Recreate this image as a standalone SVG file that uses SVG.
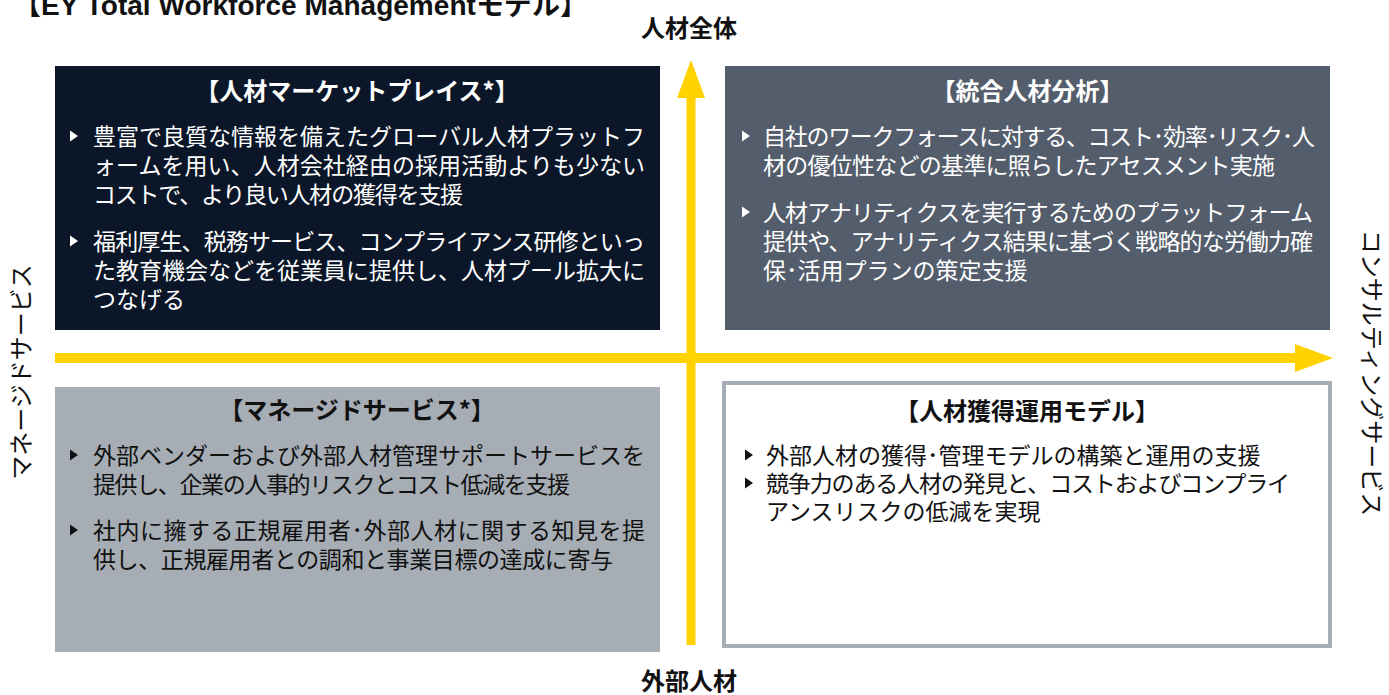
<svg xmlns="http://www.w3.org/2000/svg" width="1389" height="695" viewBox="0 0 1389 695">
<style>
.ttl{font-family:"Noto Sans CJK JP",sans-serif;font-size:24px;font-weight:bold;text-anchor:middle;}
.body{font-family:"Noto Sans CJK JP",sans-serif;font-size:23px;}
.w{fill:#ffffff;}
.k{fill:#111111;}
.axis{font-family:"Noto Sans CJK JP",sans-serif;font-size:24px;font-weight:bold;fill:#111;text-anchor:middle;}
.side{font-family:"Noto Sans CJK JP",sans-serif;font-size:24px;fill:#111;text-anchor:middle;}
.conn{stroke:#ffd200;fill:none;}
</style>
<defs>
<marker id="head" markerUnits="userSpaceOnUse" viewBox="0 0 38 28" refX="1" refY="14" markerWidth="38" markerHeight="28" orient="auto">
<path d="M0,0 L38,14 L0,28 Z" fill="#ffd200"/>
</marker>
<polygon id="bul" points="0,-5.5 8,0 0,5.5"/>
</defs>
<rect width="1389" height="695" fill="#ffffff"/>

<g id="title">
<text x="13" y="15" font-family="'Liberation Sans','Noto Sans CJK JP',sans-serif" font-size="28" font-weight="bold" fill="#111" textLength="575" lengthAdjust="spacing">【EY Total Workforce Managementモデル】</text>
</g>

<g id="node-marketplace">
<rect x="55" y="66" width="605" height="264" fill="#0b1728"/>
<text class="ttl w" x="357" y="100">【人材マーケットプレイス*】</text>
<use href="#bul" x="70" y="136" fill="#ffffff"/>
<use href="#bul" x="70" y="241" fill="#ffffff"/>
<text class="body w" x="93" y="145" textLength="552" lengthAdjust="spacing">豊富で良質な情報を備えたグローバル人材プラットフ</text>
<text class="body w" x="93" y="174" textLength="552" lengthAdjust="spacing">ォームを用い、人材会社経由の採用活動よりも少ない</text>
<text class="body w" x="93" y="203" textLength="370" lengthAdjust="spacing">コストで、より良い人材の獲得を支援</text>
<text class="body w" x="93" y="250" textLength="552" lengthAdjust="spacing">福利厚生、税務サービス、コンプライアンス研修といっ</text>
<text class="body w" x="93" y="279" textLength="552" lengthAdjust="spacing">た教育機会などを従業員に提供し、人材プール拡大に</text>
<text class="body w" x="93" y="308">つなげる</text>
</g>

<g id="node-analytics">
<rect x="725" y="66" width="605" height="264" fill="#535d6b"/>
<text class="ttl w" x="1027.5" y="100">【統合人材分析】</text>
<use href="#bul" x="742" y="136" fill="#ffffff"/>
<use href="#bul" x="742" y="212" fill="#ffffff"/>
<text class="body w" x="763" y="145" textLength="552" lengthAdjust="spacing">自社のワークフォースに対する、コスト･効率･リスク･人</text>
<text class="body w" x="763" y="174" textLength="512" lengthAdjust="spacing">材の優位性などの基準に照らしたアセスメント実施</text>
<text class="body w" x="763" y="221" textLength="550" lengthAdjust="spacing">人材アナリティクスを実行するためのプラットフォーム</text>
<text class="body w" x="763" y="250" textLength="550" lengthAdjust="spacing">提供や、アナリティクス結果に基づく戦略的な労働力確</text>
<text class="body w" x="763" y="279">保･活用プランの策定支援</text>
</g>

<g id="node-managed">
<rect x="55" y="387" width="605" height="265" fill="#a6adb4"/>
<text class="ttl k" x="357" y="419">【マネージドサービス*】</text>
<use href="#bul" x="70" y="455" fill="#111"/>
<use href="#bul" x="70" y="530" fill="#111"/>
<text class="body k" x="93" y="464" textLength="552" lengthAdjust="spacing">外部ベンダーおよび外部人材管理サポートサービスを</text>
<text class="body k" x="93" y="493" textLength="477" lengthAdjust="spacing">提供し、企業の人事的リスクとコスト低減を支援</text>
<text class="body k" x="93" y="539" textLength="552" lengthAdjust="spacing">社内に擁する正規雇用者･外部人材に関する知見を提</text>
<text class="body k" x="93" y="568" textLength="520" lengthAdjust="spacing">供し、正規雇用者との調和と事業目標の達成に寄与</text>
</g>

<g id="node-acquisition">
<rect x="724" y="383" width="606" height="263" fill="#ffffff" stroke="#a6adb4" stroke-width="4"/>
<text class="ttl k" x="1027" y="420">【人材獲得運用モデル】</text>
<use href="#bul" x="745" y="455" fill="#111"/>
<use href="#bul" x="745" y="483" fill="#111"/>
<text class="body k" x="766" y="464">外部人材の獲得･管理モデルの構築と運用の支援</text>
<text class="body k" x="766" y="492" textLength="524" lengthAdjust="spacing">競争力のある人材の発見と、コストおよびコンプライ</text>
<text class="body k" x="766" y="520">アンスリスクの低減を実現</text>
</g>

<g id="connectors">
<line class="conn" x1="691" y1="645" x2="691" y2="97" stroke-width="9" marker-end="url(#head)"/>
<line class="conn" x1="55" y1="358" x2="1296" y2="358" stroke-width="10" marker-end="url(#head)"/>
</g>

<g id="axis-labels">
<text class="axis" x="689" y="37">人材全体</text>
<text class="axis" x="689" y="690">外部人材</text>
<text class="side" transform="translate(30,372) rotate(-90)">マネージドサービス</text>
<text class="side" transform="translate(1363,373) rotate(90)" font-size="25">コンサルティングサービス</text>
</g>
</svg>
